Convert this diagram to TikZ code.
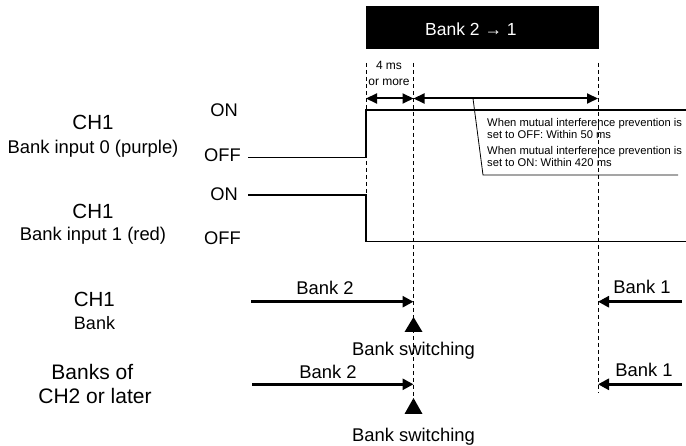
\documentclass[tikz,border=0pt]{standalone}
\usepackage{fontspec}
\setmainfont{Liberation Sans}
\usetikzlibrary{arrows.meta,positioning}
\definecolor{ink}{RGB}{0,0,0}
\definecolor{paper}{RGB}{255,255,255}
\tikzset{
  lab/.style={font=\fontsize{18.4}{22}\selectfont,text=ink,anchor=base,inner sep=0pt},
  big/.style={font=\fontsize{20.5}{24}\selectfont,text=ink,anchor=base,inner sep=0pt},
  lvl/.style={font=\fontsize{18.3}{22}\selectfont,text=ink,anchor=base,inner sep=0pt},
  small/.style={font=\fontsize{12}{13}\selectfont,text=ink,anchor=base,inner sep=0pt},
  note/.style={font=\fontsize{11.2}{12}\selectfont,text=ink,anchor=north west,inner sep=0pt,align=left},
  guide/.style={ink,line width=1pt,dash pattern=on 4pt off 3pt},
  sig/.style={ink,line width=1.3pt},
  leader/.style={ink,line width=0.8pt},
  dim/.style={{Triangle[length=11pt,width=10pt]}-{Triangle[length=11pt,width=10pt]},ink,line width=2pt},
  bankarr/.style={-{Triangle[length=11pt,width=11pt]},ink,line width=3.3pt},
  marker/.style={fill=ink},
}

\begin{document}
\begin{tikzpicture}[x=1pt,y=-1pt]
\useasboundingbox[fill=paper] (0,0) rectangle (686,446);
% ---- geometry (pixel grid, y downwards) ----
\def\xA{366}\def\xB{413.5}\def\xC{598}
\def\yOnA{110}\def\yOffA{157.5}\def\yOnB{195}\def\yOffB{241.7}
\def\yDim{98.5}\def\yBkA{301.7}\def\yBkB{384.3}

% ---- header ----
\node[fill=ink,minimum width=233pt,minimum height=43pt,inner sep=0pt,anchor=north west] (hdr) at (\xA,6) {};
\node[font=\fontsize{17.5}{20}\selectfont,text=paper,anchor=base west,inner sep=0pt] (hdrtxt) at (425,36) {Bank 2 → 1};

% ---- timing guides ----
\coordinate (gA-t) at (\xA,63);  \coordinate (gA-b) at (\xA,\yOnB);
\coordinate (gB-t) at (\xB,63);  \coordinate (gB-b) at (\xB,398);
\coordinate (gC-t) at (\xC,63);  \coordinate (gC-b) at (\xC,393);
\draw[guide] (gA-t) -- (gA-b);
\draw[guide] (gB-t) -- (gB-b);
\draw[guide] (gC-t) -- (gC-b);

% ---- intervals ----
\coordinate (dA) at (\xA,\yDim); \coordinate (dB) at (\xB,\yDim); \coordinate (dC) at (\xC,\yDim);
\draw[dim] (dA) -- (dB);
\draw[dim] (dB) -- (dC);
\node[small] (tmin) at (389,70) {4 ms};
\node[small] (tmore) at (389,86) {or more};

\coordinate (ld-a) at (473,\yDim); \coordinate (ld-b) at (483,175); \coordinate (ld-c) at (678,175);
\draw[leader] (ld-a) -- (ld-b) -- (ld-c);
\node[note] (noteoff) at (487,118.5) {When mutual interference prevention is\\set to OFF: Within 50 ms};
\node[note] (noteon) at (487,145.8) {When mutual interference prevention is\\set to ON: Within 420 ms};

% ---- bank inputs ----
\coordinate (s0-a) at (248,\yOffA); \coordinate (s0-b) at (\xA,\yOffA);
\coordinate (s0-c) at (\xA,\yOnA);  \coordinate (s0-d) at (686,\yOnA);
\draw[sig] (s0-a) -- (s0-b) -- (s0-c) -- (s0-d);
\coordinate (s1-a) at (248,\yOnB);  \coordinate (s1-b) at (\xA,\yOnB);
\coordinate (s1-c) at (\xA,\yOffB); \coordinate (s1-d) at (686,\yOffB);
\draw[sig] (s1-a) -- (s1-b) -- (s1-c) -- (s1-d);

\node[big] (ch1a) at (93,130) {CH1};
\node[lab] (in0) at (93,154) {Bank input 0 (purple)};
\node[big] (ch1b) at (93,218.4) {CH1};
\node[lab] (in1) at (93,241) {Bank input 1 (red)};
\node[lvl] (on0) at (224,116.5) {ON};
\node[lvl] (off0) at (222.5,161.6) {OFF};
\node[lvl] (on1) at (224,201) {ON};
\node[lvl] (off1) at (222.5,245) {OFF};

% ---- banks ----
\coordinate (b2a) at (251,\yBkA); \coordinate (gB-1) at (\xB,\yBkA);
\coordinate (b1a) at (682,\yBkA); \coordinate (gC-1) at (\xC,\yBkA);
\coordinate (b2b) at (252,\yBkB); \coordinate (gB-2) at (\xB,\yBkB);
\coordinate (b1b) at (682,\yBkB); \coordinate (gC-2) at (\xC,\yBkB);
\draw[bankarr] (b2a) -- (gB-1);
\draw[bankarr] (b1a) -- (gC-1);
\draw[bankarr] (b2b) -- (gB-2);
\draw[bankarr] (b1b) -- (gC-2);
\node[lab] (lb2a) at (325,295) {Bank 2};
\node[lab] (lb1a) at (642,293.3) {Bank 1};
\node[lab] (lb2b) at (328,378.3) {Bank 2};
\node[lab] (lb1b) at (644,376.7) {Bank 1};

\fill[marker] (\xB,317) -- ++(9,15) -- ++(-18,0) -- cycle;
\fill[marker] (\xB,398) -- ++(9,16) -- ++(-18,0) -- cycle;
\node[lab] (swa) at (\xB,356) {Bank switching};
\node[lab] (swb) at (\xB,441.7) {Bank switching};

\node[big] (ch1c) at (94.3,306.5) {CH1};
\node[lab,font=\fontsize{18}{22}\selectfont] (bank) at (94.5,329.2) {Bank};
\node[big,font=\fontsize{21}{25}\selectfont] (chna) at (92.3,379.5) {Banks of};
\node[big,font=\fontsize{21}{25}\selectfont] (chnb) at (95,404) {CH2 or later};
\end{tikzpicture}
\end{document}
